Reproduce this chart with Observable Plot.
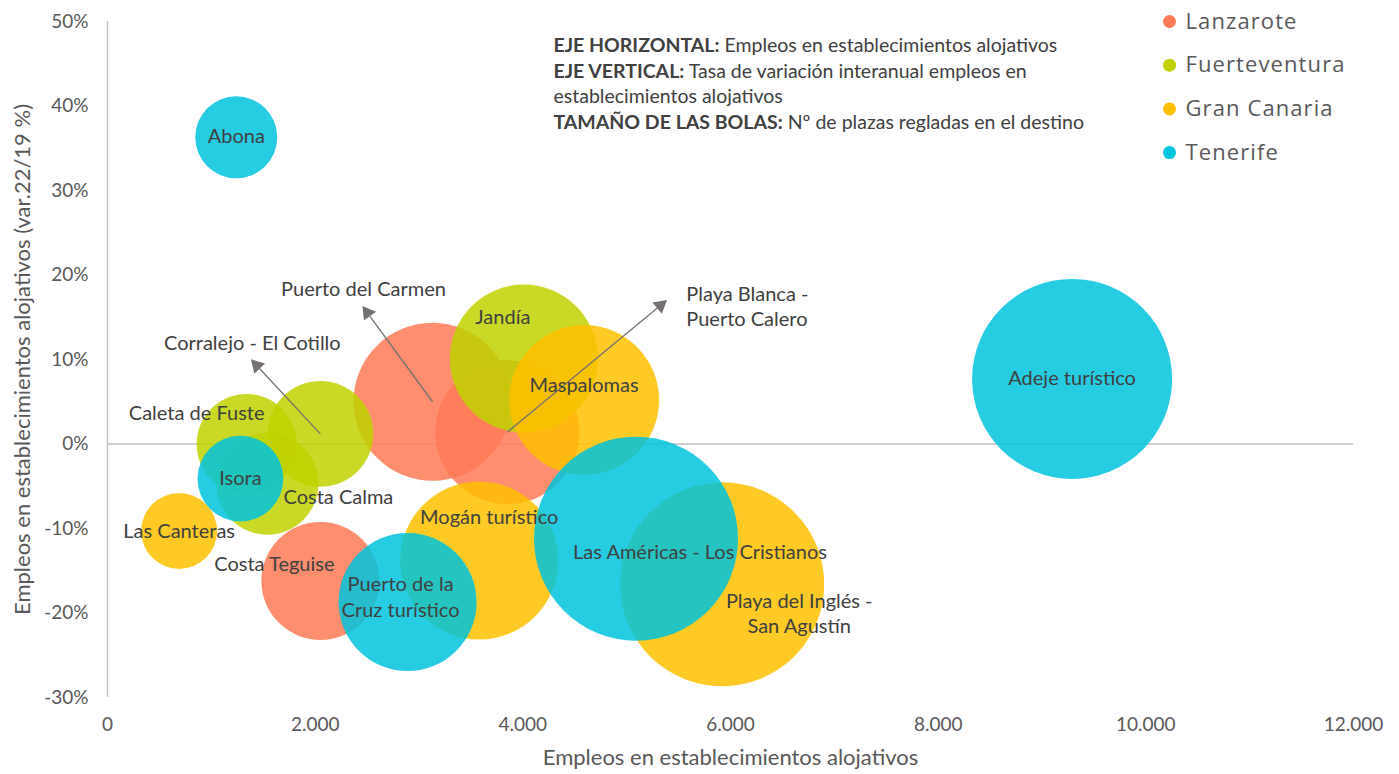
<!DOCTYPE html>
<html><head><meta charset="utf-8">
<script src="https://cdn.jsdelivr.net/npm/d3@7"></script>
<script src="https://cdn.jsdelivr.net/npm/@observablehq/plot@0.6"></script>
<style>body{margin:0;background:#fff} svg{display:block}</style>
</head><body><div id="chart"></div>
<script>
// ---- data ----
const destinos = ["Puerto del Carmen","Playa Blanca - Puerto Calero","Costa Teguise",
  "Jandía","Corralejo - El Cotillo","Caleta de Fuste","Costa Calma",
  "Maspalomas","Playa del Inglés - San Agustín","Mogán turístico","Las Canteras",
  "Adeje turístico","Las Américas - Los Cristianos","Puerto de la Cruz turístico","Isora","Abona"];
const etiquetas = ["Puerto del Carmen","Playa Blanca -\nPuerto Calero","Costa Teguise",
  "Jandía","Corralejo - El Cotillo","Caleta de Fuste","Costa Calma",
  "Maspalomas","Playa del Inglés -\nSan Agustín","Mogán turístico","Las Canteras",
  "Adeje turístico","Las Américas - Los Cristianos","Puerto de la\nCruz turístico","Isora","Abona"];
const islas = ["Lanzarote","Lanzarote","Lanzarote",
  "Fuerteventura","Fuerteventura","Fuerteventura","Fuerteventura",
  "Gran Canaria","Gran Canaria","Gran Canaria","Gran Canaria",
  "Tenerife","Tenerife","Tenerife","Tenerife","Tenerife"];
const empleos = [3130, 3850, 2050, 4010, 2050, 1340, 1540, 4590, 5920, 3580, 690, 9290, 5090, 2890, 1280, 1240];
const variacion = [5.0, 1.4, -16.2, 10.1, 1.2, 0.0, -4.7, 5.2, -16.6, -13.8, -10.3, 7.7, -11.2, -18.7, -4.1, 36.3];
const plazas = [31200, 25900, 17400, 27400, 14000, 12500, 13000, 28100, 52000, 31200, 7200, 50000, 52000, 23800, 9200, 8400];

const islasOrden = ["Lanzarote","Fuerteventura","Gran Canaria","Tenerife"];
const xTicks = [0, 2000, 4000, 6000, 8000, 10000, 12000];
const yTicks = [-30, -20, -10, 0, 10, 20, 30, 40, 50];
const xLabel = "Empleos en establecimientos alojativos";
const yLabel = "Empleos en establecimientos alojativos (var.22/19 %)";
const infoLines = [
  ["EJE HORIZONTAL:", " Empleos en establecimientos alojativos"],
  ["EJE VERTICAL:", " Tasa de variación interanual empleos en"],
  ["", "establecimientos alojativos"],
  ["TAMAÑO DE LAS BOLAS:", " Nº de plazas regladas en el destino"]
];
const calloutNames = ["Puerto del Carmen","Playa Blanca - Puerto Calero","Corralejo - El Cotillo"];

// ---- styles / layout ----
const colores = ["#FF7A57", "#BFD200", "#FFBF00", "#00C3DD"];
const W = 1399, H = 774, mL = 107, mR = 46, mT = 21, mB = 77;
const xDom = [0, 12000], yDom = [-30, 50];
const pxX = (W - mL - mR) / (xDom[1] - xDom[0]);
const pxY = (H - mT - mB) / (yDom[1] - yDom[0]);
const labelFont = "Lato, 'Open Sans', sans-serif";
// label offsets in pixels from bubble centre
const labelLayout = {
  "Puerto del Carmen": {dx: -69, dy: -114},
  "Playa Blanca - Puerto Calero": {dx: 179, dy: -127, anchor: "start"},
  "Costa Teguise": {dx: -46, dy: -18},
  "Jandía": {dx: -21, dy: -43},
  "Corralejo - El Cotillo": {dx: -68, dy: -92},
  "Caleta de Fuste": {dx: -50, dy: -32},
  "Costa Calma": {dx: 71, dy: 12},
  "Maspalomas": {dx: 0, dy: -16},
  "Playa del Inglés - San Agustín": {dx: 77, dy: 28},
  "Mogán turístico": {dx: 10, dy: -45},
  "Las Canteras": {dx: 0, dy: -1},
  "Adeje turístico": {dx: 0, dy: -2},
  "Las Américas - Los Cristianos": {dx: 64, dy: 12},
  "Puerto de la Cruz turístico": {dx: -7, dy: -6},
  "Isora": {dx: 0, dy: -2},
  "Abona": {dx: 0, dy: -2}
};
// arrow tips in pixels from bubble centre
const calloutTips = {
  "Puerto del Carmen": [-68, -93],
  "Playa Blanca - Puerto Calero": [157, -130],
  "Corralejo - El Cotillo": [-67, -72]
};

const data = destinos.map((d, i) => ({
  destino: d, etiqueta: etiquetas[i], isla: islas[i],
  empleos: empleos[i], variacion: variacion[i], plazas: plazas[i]
}));

// callout geometry (converted from pixel offsets to data units)
const callouts = calloutNames.map(n => {
  const d = data.find(e => e.destino === n);
  const [tx, ty] = calloutTips[n];
  const len = Math.hypot(tx, ty);
  const ux = tx / len, uy = ty / len;
  return {
    x1: d.empleos, y1: d.variacion,
    x2: d.empleos + (tx - ux * 9) / pxX, y2: d.variacion - (ty - uy * 9) / pxY,
    hx: d.empleos + (tx - ux * 5) / pxX, hy: d.variacion - (ty - uy * 5) / pxY,
    rot: Math.atan2(tx, -ty) * 180 / Math.PI
  };
});

const fmtX = d3.formatLocale({thousands: ".", decimal: ",", grouping: [3], currency: ["", ""]}).format(",");

const marks = [
  Plot.ruleX([0], {y1: yDom[0], y2: yDom[1], stroke: "#BFBFBF", strokeWidth: 1.3}),
  Plot.ruleY([0], {x1: xDom[0], x2: xDom[1], stroke: "#BFBFBF", strokeWidth: 1.3}),
  Plot.dot(data, {x: "empleos", y: "variacion", r: "plazas", fill: "isla", fillOpacity: 0.85, stroke: "none", sort: null}),
  Plot.link(callouts, {x1: "x1", y1: "y1", x2: "x2", y2: "y2", stroke: "#767171", strokeWidth: 1.3}),
  Plot.dot(callouts, {x: "hx", y: "hy", rotate: "rot", symbol: "triangle", r: 5.5, fill: "#767171", stroke: "none"}),
  ...data.map(d => {
    const l = labelLayout[d.destino];
    return Plot.text([d], {x: "empleos", y: "variacion", text: "etiqueta", dx: l.dx, dy: l.dy,
      textAnchor: l.anchor || "middle", lineHeight: 1.28, fill: "#404040", fontSize: 20, fontFamily: labelFont});
  }),
  // axis titles
  Plot.text([xLabel], {frameAnchor: "bottom", dy: 60, lineAnchor: "middle", fill: "#595959", fontSize: 22, fontFamily: labelFont}),
  Plot.text([yLabel], {frameAnchor: "left", dx: -85, dy: 0, rotate: -90, textAnchor: "middle", lineAnchor: "middle", fill: "#595959", fontSize: 22, fontFamily: labelFont}),
  // info block
  ...infoLines.map((l, i) => Plot.text([l[0] + l[1]], {frameAnchor: "top-left", dx: 446, dy: 24 + i * 25.8,
    textAnchor: "start", lineAnchor: "middle", fill: "#404040", fontSize: 19.5, fontFamily: labelFont})),
  // legend
  ...islasOrden.map((isl, i) => Plot.dot([isl], {frameAnchor: "top-left", dx: 1062, dy: 0 + i * 43.7, r: 6.5, fill: colores[i]})),
  ...islasOrden.map((isl, i) => Plot.text([isl], {frameAnchor: "top-left", dx: 1078, dy: 0 + i * 43.7,
    textAnchor: "start", lineAnchor: "middle", fill: "#595959", fontSize: 22, fontFamily: "'Open Sans', sans-serif"}))
];

const chart = Plot.plot({
  width: W, height: H,
  marginLeft: mL, marginRight: mR, marginTop: mT, marginBottom: mB,
  style: {fontFamily: labelFont, fontSize: "19px", color: "#595959", background: "#fff", overflow: "visible"},
  x: {domain: xDom, ticks: xTicks, tickFormat: fmtX, tickSize: 0, tickPadding: 20, label: null},
  y: {domain: yDom, ticks: yTicks, tickFormat: d => d + "%", tickSize: 0, tickPadding: 19, label: null},
  r: {type: "sqrt", domain: [0, 52000], range: [0, 102]},
  color: {domain: islasOrden, range: colores},
  marks
});
document.getElementById("chart").appendChild(chart);

// bold prefixes in the info block; letter spacing in the legend
const ns = "http://www.w3.org/2000/svg";
chart.querySelectorAll("text").forEach(t => {
  for (const [b, rest] of infoLines) {
    if (b && t.textContent === b + rest) {
      t.textContent = "";
      const s1 = document.createElementNS(ns, "tspan"); s1.setAttribute("font-weight", "bold"); s1.textContent = b;
      const s2 = document.createElementNS(ns, "tspan"); s2.textContent = rest;
      t.appendChild(s1); t.appendChild(s2);
    }
  }
  if (islasOrden.includes(t.textContent)) t.setAttribute("letter-spacing", "1.1");
});
</script></body></html>
